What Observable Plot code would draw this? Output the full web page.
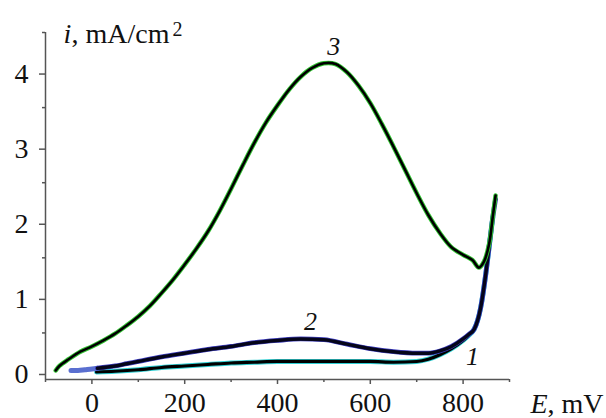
<!DOCTYPE html>
<html>
<head>
<meta charset="utf-8">
<script src="https://cdn.jsdelivr.net/npm/d3@7"></script>
<script src="https://cdn.jsdelivr.net/npm/@observablehq/plot@0.6"></script>
<style>
  html, body { margin: 0; padding: 0; background: #fff; }
  svg { display: block; }
</style>
</head>
<body>
<div id="chart"></div>
<script>
// ---- data: potential E (mV) and current density i (mA/cm2) ----
const curve3E = [-78, -70, -50, -25, 0, 25, 50, 75, 100, 125, 150, 175, 200, 225, 250, 275, 300, 325, 350, 375, 400, 425, 450, 475, 500, 525, 550, 575, 600, 625, 650, 675, 700, 725, 750, 775, 800, 820, 834, 845, 856, 864, 870];
const curve3I = [0.0, 0.06, 0.15, 0.25, 0.32, 0.40, 0.49, 0.60, 0.72, 0.86, 1.03, 1.21, 1.41, 1.62, 1.85, 2.12, 2.42, 2.73, 3.03, 3.30, 3.53, 3.74, 3.91, 4.03, 4.09, 4.08, 3.97, 3.79, 3.56, 3.28, 2.98, 2.67, 2.36, 2.07, 1.83, 1.64, 1.54, 1.47, 1.37, 1.45, 1.68, 2.05, 2.33];

const curve2StartE = [-45, -30, -15, 0, 12];
const curve2StartI = [0.0, 0.0, 0.01, 0.02, 0.03];

const curve2E = [12, 50, 75, 100, 150, 200, 250, 300, 350, 400, 450, 500, 550, 600, 650, 700, 725, 750, 775, 800, 812, 824, 838, 849, 856, 864, 870];
const curve2I = [0.03, 0.06, 0.09, 0.12, 0.18, 0.23, 0.28, 0.32, 0.37, 0.40, 0.42, 0.41, 0.35, 0.29, 0.25, 0.23, 0.23, 0.26, 0.32, 0.42, 0.48, 0.55, 0.84, 1.29, 1.64, 2.04, 2.28];

const curve1E = [10, 50, 100, 150, 200, 250, 300, 350, 400, 450, 500, 550, 600, 650, 700, 725, 750, 775, 800, 816, 824, 838, 849, 856, 864];
const curve1I = [-0.02, -0.01, 0.01, 0.04, 0.06, 0.08, 0.10, 0.11, 0.12, 0.12, 0.12, 0.12, 0.12, 0.11, 0.12, 0.15, 0.21, 0.29, 0.40, 0.49, 0.55, 0.84, 1.29, 1.64, 2.04];

const curveLabels = ["3", "2", "1"];
const curveLabelE = [521, 471, 820];
const curveLabelI = [4.31, 0.65, 0.19];

const xMajorTicks = [0, 200, 400, 600, 800];
const xMinorTicks = [-100, 100, 300, 500, 700, 900];
const yMajorTicks = [0, 1, 2, 3, 4];
const yMinorTicks = [0.5, 1.5, 2.5, 3.5, 4.5];

const yTitleVar = "i";
const yTitleUnit = ", mA/cm";
const yTitleSup = "2";
const xTitleVar = "E";
const xTitleUnit = ", mV";

// ---- build tables ----
const toRows = (E, I) => E.map((e, k) => ({E: e, i: I[k]}));
const c3 = toRows(curve3E, curve3I);
const c2s = toRows(curve2StartE, curve2StartI);
const c2 = toRows(curve2E, curve2I);
const c1 = toRows(curve1E, curve1I);
const labels = curveLabels.map((t, k) => ({t, E: curveLabelE[k], i: curveLabelI[k]}));

const font = "Liberation Serif, DejaVu Serif, serif";
const axisColor = "#555";
const textColor = "#111";
const T = {fontFamily: font, fill: textColor};

const chart = Plot.plot({
  width: 606,
  height: 418,
  marginLeft: 45,
  marginRight: 97,
  marginTop: 32,
  marginBottom: 39,
  x: {domain: [-100, 900]},
  y: {domain: [-0.12, 4.5]},
  style: {fontFamily: font, fontSize: "28px", color: textColor, background: "#fff"},
  marks: [
    Plot.ruleX([-100], {stroke: axisColor, strokeWidth: 1.5}),
    Plot.ruleY([-0.12], {stroke: axisColor, strokeWidth: 1.5}),
    Plot.axisY(yMajorTicks, {...T, tickSize: 6, tickPadding: 11, dy: 4, fontSize: 28, tickFormat: d => String(d), label: null, stroke: axisColor, strokeWidth: 1.5}),
    Plot.axisY(yMinorTicks, {tickSize: 3, text: null, label: null, stroke: axisColor, strokeWidth: 1.5}),
    Plot.axisX(xMajorTicks, {...T, tickSize: 5, tickPadding: 8, fontSize: 28, tickFormat: d => String(d), label: null, stroke: axisColor, strokeWidth: 1.5}),
    Plot.axisX(xMinorTicks, {tickSize: 3, text: null, label: null, stroke: axisColor, strokeWidth: 1.5}),

    // curve 1 (cyan halo)
    Plot.line(c1, {x: "E", y: "i", stroke: "#2fd0d4", strokeWidth: 5, curve: "monotone-x"}),
    Plot.line(c1, {x: "E", y: "i", stroke: "#000", strokeWidth: 3.2, curve: "monotone-x"}),
    // curve 2 (blue halo)
    Plot.line(c2s, {x: "E", y: "i", stroke: "#5a6fd0", strokeWidth: 5, curve: "monotone-x"}),
    Plot.line(c2, {x: "E", y: "i", stroke: "#3d3dc0", strokeWidth: 4.8, curve: "monotone-x"}),
    Plot.line(c2, {x: "E", y: "i", stroke: "#05051a", strokeWidth: 3.4, curve: "monotone-x"}),
    // curve 3 (green halo)
    Plot.line(c3, {x: "E", y: "i", stroke: "#33c433", strokeWidth: 4.5, curve: "catmull-rom"}),
    Plot.line(c3, {x: "E", y: "i", stroke: "#000", strokeWidth: 2.6, curve: "catmull-rom"}),

    // curve labels
    Plot.text(labels, {...T, x: "E", y: "i", text: "t", fontSize: 26, fontStyle: "italic", lineAnchor: "middle"}),

    // axis titles
    Plot.text([yTitleVar], {...T, text: d => d, frameAnchor: "top-left", dx: 18, dy: 10, lineAnchor: "bottom", textAnchor: "start", fontStyle: "italic", fontSize: 28}),
    Plot.text([yTitleUnit], {...T, text: d => d, frameAnchor: "top-left", dx: 26, dy: 10, lineAnchor: "bottom", textAnchor: "start", fontSize: 28}),
    Plot.text([yTitleSup], {...T, text: d => d, frameAnchor: "top-left", dx: 127, dy: 3, lineAnchor: "bottom", textAnchor: "start", fontSize: 20}),
    Plot.text([xTitleVar], {...T, text: d => d, frameAnchor: "bottom-right", dx: 21, dy: 33, lineAnchor: "bottom", textAnchor: "start", fontStyle: "italic", fontSize: 28}),
    Plot.text([xTitleUnit], {...T, text: d => d, frameAnchor: "bottom-right", dx: 38, dy: 33, lineAnchor: "bottom", textAnchor: "start", fontSize: 28})
  ]
});
document.getElementById("chart").appendChild(chart);
</script>
</body>
</html>
